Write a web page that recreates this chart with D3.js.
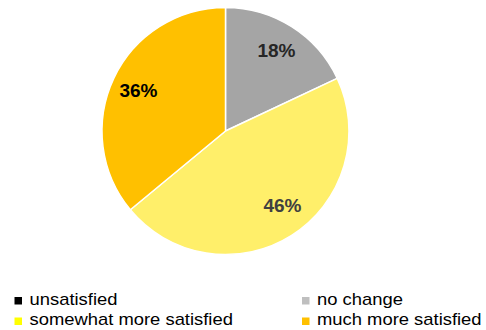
<!DOCTYPE html>
<html>
<head>
<meta charset="utf-8">
<script src="https://cdn.jsdelivr.net/npm/d3@7"></script>
<style>
  html, body { margin: 0; padding: 0; background: #fff; }
  svg { display: block; }
</style>
</head>
<body>
<svg id="chart" width="486" height="330"></svg>
<script>
// Satisfaction breakdown
const categories = ["unsatisfied", "no change", "somewhat more satisfied", "much more satisfied"];
const values = [0, 18, 46, 36];
const sliceColors = ["#000000", "#A5A5A5", "#FFEF6A", "#FFC000"];
const legendColors = ["#000000", "#BFBFBF", "#FFFF00", "#FFC000"];
const labelColors = ["#000000", "#262626", "#404040", "#000000"];

const svg = d3.select("#chart");
const cx = 225.5, cy = 131, R = 123.5;

const data = categories.map((c, i) => ({ name: c, value: values[i], i }));

const pie = d3.pie().sort(null).value(d => d.value);
const arcs = pie(data);
const arc = d3.arc().innerRadius(0).outerRadius(R);
const labelArc = d3.arc().innerRadius(R * 0.77).outerRadius(R * 0.77);

const g = svg.append("g").attr("transform", `translate(${cx},${cy})`);

g.selectAll("path.slice")
  .data(arcs.filter(a => a.data.value > 0))
  .join("path")
  .attr("class", "slice")
  .attr("d", arc)
  .attr("fill", d => sliceColors[d.data.i])
  .attr("stroke", "#fff")
  .attr("stroke-width", 1.5)
  .attr("stroke-linejoin", "round");

// small nudges for label placement along the ring
const nudge = { 2: [6, -6], 3: [-1, 0] };

g.selectAll("text.pct")
  .data(arcs.filter(a => a.data.value > 0))
  .join("text")
  .attr("class", "pct")
  .attr("transform", d => {
    const [x, y] = labelArc.centroid(d);
    const [nx, ny] = nudge[d.data.i] || [0, 0];
    return `translate(${x + nx},${y + ny})`;
  })
  .attr("text-anchor", "middle")
  .attr("dominant-baseline", "central")
  .attr("font-family", "'Liberation Sans', Arial, sans-serif")
  .attr("font-weight", "bold")
  .attr("font-size", 19)
  .attr("fill", d => labelColors[d.data.i])
  .text(d => d.data.value + "%");

// legend: two columns, two rows
const colX = [14.5, 302];
const rowY = [304.5, 325];
const legend = svg.append("g");
const items = legend.selectAll("g.item")
  .data(data)
  .join("g")
  .attr("class", "item")
  .attr("transform", (d, i) => `translate(${colX[i % 2]},${rowY[Math.floor(i / 2)]})`);

items.append("rect")
  .attr("x", 0)
  .attr("y", -7.5)
  .attr("width", 7.5)
  .attr("height", 7.5)
  .attr("fill", d => legendColors[d.i]);

items.append("text")
  .attr("transform", "translate(15,0) scale(1.15,1)")
  .attr("font-family", "'Liberation Sans', Arial, sans-serif")
  .attr("font-size", 16)
  .attr("fill", "#000")
  .text(d => d.name);
</script>
</body>
</html>
